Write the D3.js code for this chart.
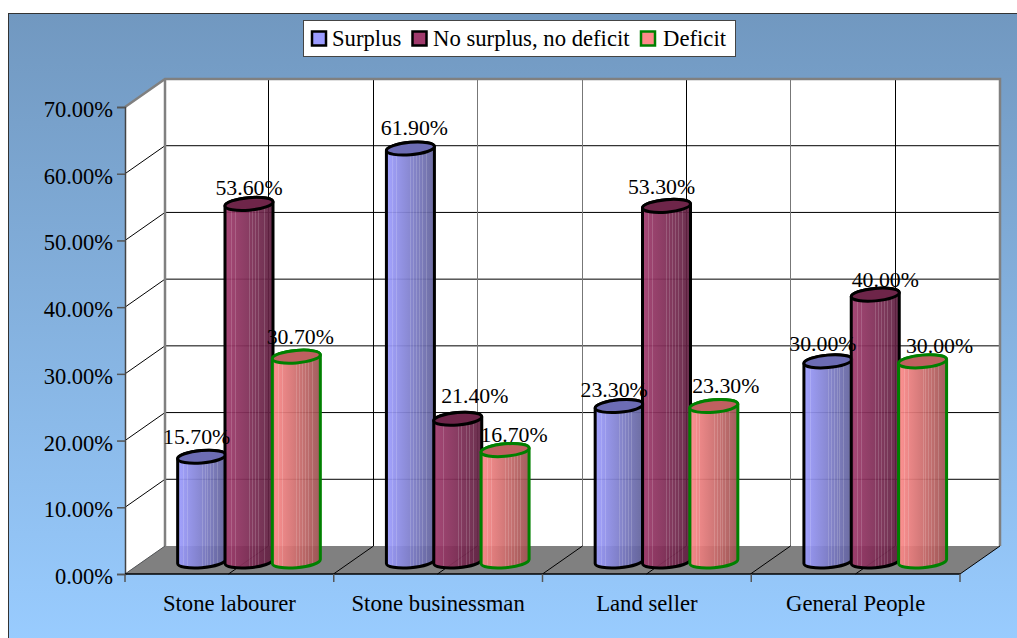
<!DOCTYPE html>
<html><head><meta charset="utf-8">
<script src="https://cdnjs.cloudflare.com/ajax/libs/d3/7.8.5/d3.min.js"></script>
<style>html,body{margin:0;padding:0;background:#fff}svg{display:block}text{font-family:"Liberation Serif",serif;fill:#000}</style>
</head><body><svg id="c" width="1017" height="638"></svg>
<script>
const categories = ["Stone labourer","Stone businessman","Land seller","General People"];
const seriesNames = ["Surplus","No surplus, no deficit","Deficit"];
const surplus = [15.7,61.9,23.3,30.0];
const noSurplus = [53.6,21.4,53.3,40.0];
const deficit = [30.7,16.7,23.3,30.0];
const seriesValues = [surplus,noSurplus,deficit];
const yTicks = [0,10,20,30,40,50,60,70];
// nudges of value labels, by series then category
const labelNudge = [[-5,4,-5,-5],[0,17,-5,10],[4,9,12,17]];
const labelLift = [[-2,-3,2,1],[2,-5,-1,3],[-2,3,-2,3]];

const svg = d3.select("#c");
const defs = svg.append("defs");
const fX0=125, fX1=960, fY0=574, fY1=107, dx=40, dy=-28;
const x = d3.scaleBand().domain(categories).range([fX0,fX1]);
const inner = d3.scaleBand().domain(seriesNames).range([53,195]);
const y = d3.scaleLinear().domain([0,70]).range([fY0,fY1]);
const fills = [
 {light:"#9c9cff",dark:"#62629a",top:"#6c6cb4",stroke:"#000"},
 {light:"#a03a6c",dark:"#5e2040",top:"#6e2549",stroke:"#000"},
 {light:"#ff8a8a",dark:"#9c5252",top:"#bf6060",stroke:"#008000"}];

const bg = defs.append("linearGradient").attr("id","bg").attr("x1",0).attr("x2",0).attr("y1",0).attr("y2",1);
bg.append("stop").attr("offset",0).attr("stop-color","#7198c0");
bg.append("stop").attr("offset",1).attr("stop-color","#99ccff");
fills.forEach((f,i)=>{
  const g = defs.append("linearGradient").attr("id","cyl"+i);
  const mix = d3.interpolateRgb(f.light,f.dark);
  const stripes = [[.12,.14],[.2,.22],[.5,.52],[.56,.58],[.62,.64],[.68,.70],[.74,.76],[.82,.84]];
  let stops=[[0,mix(0)]];
  stripes.forEach(([a,b])=>{
    const c=d3.interpolateRgb(mix((a+b)/2),"#fff")(.16);
    stops.push([a,mix(a)],[a,c],[b,c],[b,mix(b)]);
  });
  stops.push([1,mix(1)]);
  stops.forEach(s=>g.append("stop").attr("offset",s[0]).attr("stop-color",s[1]));
});

svg.append("rect").attr("x",8.5).attr("y",13.5).attr("width",1012).attr("height",630)
  .attr("fill","url(#bg)").attr("stroke","#333").attr("stroke-width",1);

// walls and floor
const line = d3.line();
svg.append("path").attr("d",line([[fX0,fY1],[fX0+dx,fY1+dy],[fX0+dx,fY0+dy],[fX0,fY0]])+"Z").attr("fill","#fff");
svg.append("path").attr("d",line([[fX0+dx,fY1+dy],[fX1+dx,fY1+dy],[fX1+dx,fY0+dy],[fX0+dx,fY0+dy]])+"Z").attr("fill","#fff");
svg.append("path").attr("d",line([[fX0,fY0],[fX0+dx,fY0+dy],[fX1+dx,fY0+dy],[fX1,fY0]])+"Z").attr("fill","#808080");

// grid
yTicks.slice(1,-1).forEach(t=>{
  svg.append("path").attr("d",line([[fX0,y(t)],[fX0+dx,y(t)+dy],[fX1+dx,y(t)+dy]])).attr("fill","none").attr("stroke","#000");
});
const halfSteps = d3.range(1,8);
const vCols = ["#000","#000","#777","#777","#000","#777","#000"];
halfSteps.forEach((k,i)=>{
  const px = Math.round(fX0 + k*x.step()/2 + dx - 1)+.5;
  svg.append("line").attr("x1",px).attr("x2",px).attr("y1",fY1+dy).attr("y2",fY0+dy).attr("stroke",vCols[i]);
  svg.append("line").attr("x1",px-dx).attr("y1",fY0).attr("x2",px).attr("y2",fY0+dy).attr("stroke","#000");
});
svg.append("path").attr("d",line([[fX0,fY1],[fX0+dx,fY1+dy],[fX1+dx,fY1+dy],[fX1+dx,fY0+dy]])).attr("fill","none").attr("stroke","#808080").attr("stroke-width",2.5);
svg.append("line").attr("x1",fX0+dx).attr("x2",fX0+dx).attr("y1",fY1+dy).attr("y2",fY0+dy).attr("stroke","#808080").attr("stroke-width",2.5);
svg.append("path").attr("d",line([[fX0,fY0],[fX0+dx,fY0+dy]])).attr("stroke","#555").attr("fill","none");
svg.append("path").attr("d",line([[fX1,fY0],[fX1+dx,fY0+dy]])).attr("stroke","#000").attr("fill","none");

// axes
const yAxis = d3.axisLeft(y).tickValues(yTicks).tickSize(8).tickFormat(d=>d3.format(".2f")(d)+"%");
const gy = svg.append("g").attr("transform",`translate(${fX0},0)`).call(yAxis);
gy.selectAll("text").attr("x",-12).attr("dy","0.42em").style("font-size","22.5px");
gy.selectAll("line").attr("stroke","#555").attr("stroke-width",1.5);
gy.select(".domain").attr("stroke","#444").attr("stroke-width",1.5);
const xTickScale = d3.scaleLinear().domain([0,4]).range([fX0,fX1]);
const xA = svg.append("g").attr("transform",`translate(0,${fY0})`);
xA.append("line").attr("x1",fX0).attr("x2",fX1).attr("stroke","#000").attr("stroke-width",1.5);
d3.range(5).forEach(i=>xA.append("line").attr("x1",xTickScale(i)).attr("x2",xTickScale(i)).attr("y2",8).attr("stroke","#555").attr("stroke-width",1.5));
svg.selectAll(".cat").data(categories).join("text").attr("class","cat")
  .attr("x",d=>x(d)+x.bandwidth()/2).attr("y",611).attr("text-anchor","middle").style("font-size","22.7px").text(d=>d);

// cylinders
const rx=24, ry=6.2, tilt=-5, lift=2, baseOffset=12.5;
function cyl(cx,vy,by){
  return `M${cx-rx},${vy+lift} L${cx-rx},${by+lift} A${rx},${ry} ${tilt} 0 0 ${cx+rx},${by-lift} L${cx+rx},${vy-lift} A${rx},${ry} ${tilt} 0 0 ${cx-rx},${vy+lift}Z`;
}
function topEll(cx,vy){
  return `M${cx-rx},${vy+lift} A${rx},${ry} ${tilt} 1 0 ${cx+rx},${vy-lift} A${rx},${ry} ${tilt} 1 0 ${cx-rx},${vy+lift}Z`;
}
categories.forEach((c,ci)=>{
  seriesNames.forEach((s,si)=>{
    const v=seriesValues[si][ci], cx=x(c)+inner(s)+inner.bandwidth()/2, vy=y(v)-baseOffset, by=y(0)-baseOffset, f=fills[si];
    svg.append("path").attr("d",cyl(cx,vy,by)).attr("fill",`url(#cyl${si})`).attr("fill-opacity",.93).attr("stroke",f.stroke).attr("stroke-width",3).attr("stroke-linejoin","round");
    svg.append("path").attr("d",topEll(cx,vy)).attr("fill",f.top).attr("stroke",f.stroke).attr("stroke-width",3);
  });
});
categories.forEach((c,ci)=>{
  seriesNames.forEach((s,si)=>{
    const v=seriesValues[si][ci], cx=x(c)+inner(s)+inner.bandwidth()/2, vy=y(v)-baseOffset;
    svg.append("text").attr("x",cx+labelNudge[si][ci]).attr("y",vy-11+labelLift[si][ci]).attr("text-anchor","middle").style("font-size","21.8px").text(d3.format(".2f")(v)+"%");
  });
});

// legend
svg.append("rect").attr("x",303.5).attr("y",20.5).attr("width",432).attr("height",36).attr("fill","#fff").attr("stroke","#444");
const legX=[312,412.5,641], legT=[332,433,663];
seriesNames.forEach((s,i)=>{
  svg.append("rect").attr("x",legX[i]).attr("y",31.5).attr("width",14).attr("height",14).attr("fill",fills[i].light).attr("stroke",fills[i].stroke).attr("stroke-width",2.5);
  svg.append("text").attr("x",legT[i]).attr("y",46).style("font-size","22.7px").text(s);
});
</script></body></html>
